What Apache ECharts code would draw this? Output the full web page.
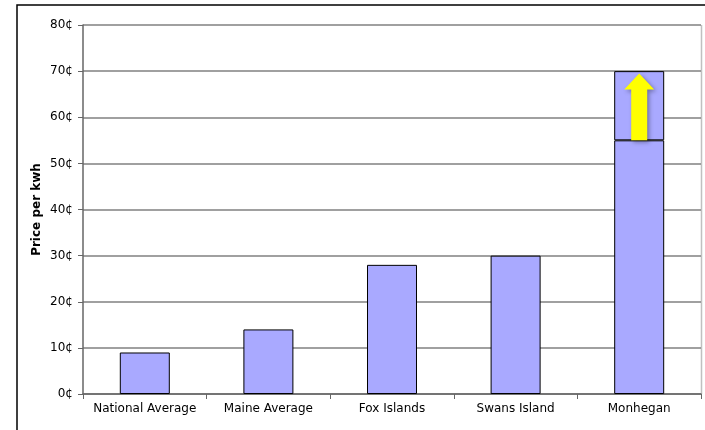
<!DOCTYPE html>
<html>
<head>
<meta charset="utf-8">
<script src="https://cdn.jsdelivr.net/npm/echarts@6/dist/echarts.min.js"></script>
<style>
  html, body { margin: 0; padding: 0; background: #fff; }
  #chart { width: 705px; height: 430px; }
</style>
</head>
<body>
<div id="chart"></div>
<script>
// categories and prices (cents per kwh)
var places = ['National Average', 'Maine Average', 'Fox Islands', 'Swans Island', 'Monhegan'];
var basePrice = [9, 14, 28, 30, 55];
var extraPrice = ['-', '-', '-', '-', 15];
// yellow arrow on Monhegan: [category index, from, to]
var arrowData = [[4, 55, 69.5]];
var yTicks = [0, 10, 20, 30, 40, 50, 60, 70, 80];

var myChart = echarts.init(document.getElementById('chart'));
var font = 'DejaVu Sans, Verdana, sans-serif';
var option = {
    animation: false,
    graphic: [{
        type: 'rect',
        shape: { x: 17, y: 5, width: 720, height: 460 },
        style: { fill: 'none', stroke: '#000', lineWidth: 1.5 },
        silent: true
    }, {
        type: 'line',
        shape: { x1: 701.5, y1: 25, x2: 701.5, y2: 394 },
        style: { stroke: '#c0c0c0', lineWidth: 1.5 },
        silent: true
    }],
    grid: {
        left: 83,
        right: 4,
        top: 25,
        bottom: 36
    },
    xAxis: {
        type: 'category',
        data: places,
        axisLine: { lineStyle: { color: '#666', width: 1.5 } },
        axisTick: { show: true, length: 5, lineStyle: { color: '#666' } },
        axisLabel: { interval: 0, color: '#000', fontSize: 12, fontFamily: font, margin: 9 }
    },
    yAxis: {
        type: 'value',
        min: 0,
        max: 80,
        interval: 10,
        name: 'Price per kwh',
        nameLocation: 'middle',
        nameGap: 40,
        nameMoveOverlap: false,
        nameTextStyle: { color: '#000', fontSize: 12, fontWeight: 'bold', fontFamily: font },
        axisLine: { show: true, lineStyle: { color: '#666', width: 1.5 } },
        axisTick: { show: true, length: 5, lineStyle: { color: '#666' } },
        axisLabel: {
            color: '#000', fontSize: 12, fontFamily: font, margin: 10,
            formatter: function (v) { return yTicks.indexOf(v) >= 0 ? v + '\u00a2' : ''; }
        },
        splitLine: { lineStyle: { color: '#808080', width: 1.5 } }
    },
    series: [{
        name: 'base',
        type: 'bar',
        stack: 'price',
        barWidth: 50,
        data: basePrice,
        itemStyle: { color: '#a9a9ff', borderColor: '#000', borderWidth: 1 }
    }, {
        name: 'extra',
        type: 'bar',
        stack: 'price',
        barWidth: 50,
        data: extraPrice,
        itemStyle: { color: '#a9a9ff', borderColor: '#000', borderWidth: 1 }
    }, {
        name: 'arrow',
        type: 'custom',
        data: arrowData,
        z: 5,
        renderItem: function (params, api) {
            var idx = api.value(0);
            var p0 = api.coord([idx, api.value(1)]);
            var p1 = api.coord([idx, api.value(2)]);
            var cx = p0[0];
            var shaft = 8, head = 15, headH = 16;
            var pts = [
                [cx, p1[1]],
                [cx + head, p1[1] + headH],
                [cx + shaft, p1[1] + headH],
                [cx + shaft, p0[1]],
                [cx - shaft, p0[1]],
                [cx - shaft, p1[1] + headH],
                [cx - head, p1[1] + headH]
            ];
            return {
                type: 'polygon',
                shape: { points: pts },
                style: {
                    fill: '#ffff00',
                    shadowBlur: 4,
                    shadowColor: 'rgba(0,0,0,0.35)',
                    shadowOffsetX: 2,
                    shadowOffsetY: 2
                }
            };
        }
    }]
};
myChart.setOption(option);
</script>
</body>
</html>
